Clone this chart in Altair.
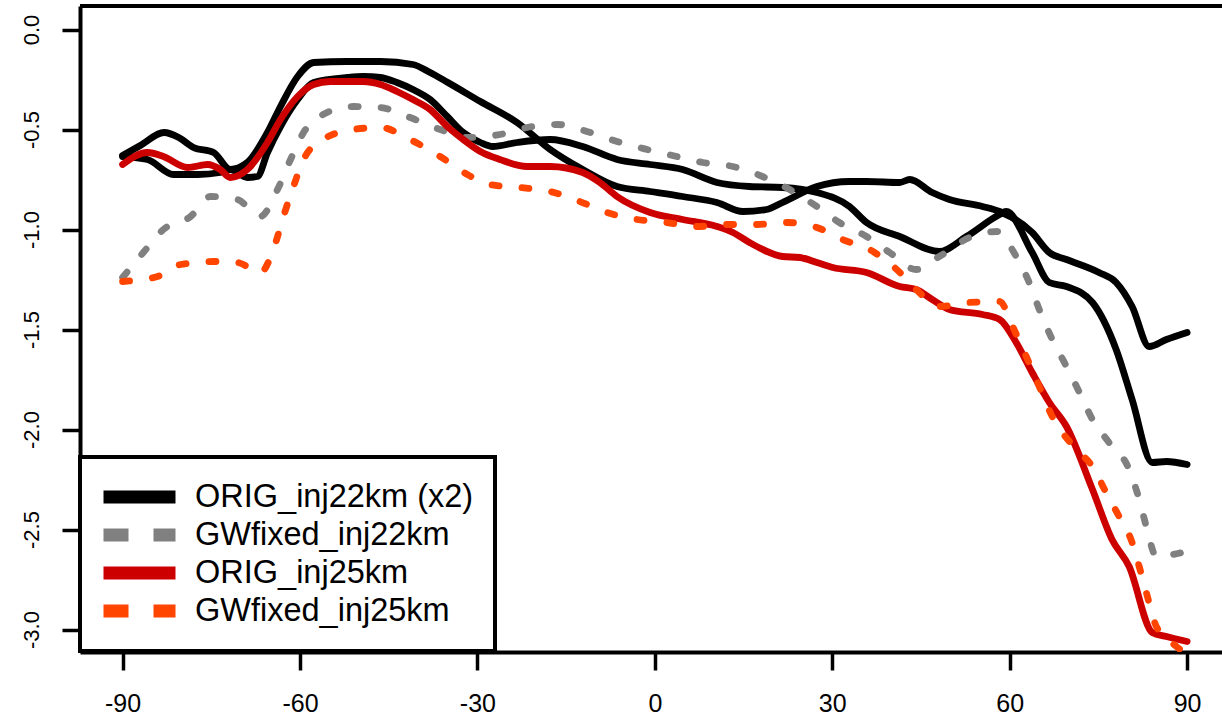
import altair as alt
import pandas as pd

# ---------------- data ----------------
series_names = ["ORIG_inj22km (x2)", "GWfixed_inj22km", "ORIG_inj25km", "GWfixed_inj25km"]
series_colors = ["#000000", "#808080", "#CD0000", "#FF4500"]

# black run 1 (ORIG_inj22km)
blk1_lat = [-90, -87, -83, -80.5, -78, -74.6, -71.8, -68.9, -65.5, -63.3, -60.4, -57.7, -52, -46.4,
            -40.9, -38, -35, -29.5, -23.3, -17.7, -12.2, -6.4, -0.8, 4.7, 10.5, 14.9, 18.9, 21.6,
            27.4, 32.9, 35.8, 41.4, 43.1, 46.9, 49.8, 55.4, 58.3, 63.8, 66.7, 69.6, 75.1, 78.0,
            80.7, 83.6, 86.5, 90]
blk1_val = [-0.63, -0.58, -0.515, -0.54, -0.59, -0.615, -0.70, -0.665, -0.515, -0.385, -0.235,
            -0.165, -0.16, -0.16, -0.175, -0.215, -0.265, -0.36, -0.465, -0.60, -0.70, -0.785,
            -0.81, -0.835, -0.865, -0.91, -0.90, -0.865, -0.785, -0.76, -0.76, -0.765, -0.75,
            -0.815, -0.85, -0.885, -0.91, -1.015, -1.115, -1.15, -1.215, -1.265, -1.385, -1.585,
            -1.55, -1.515]

# black run 2 (ORIG_inj22km)
blk2_lat = [-90, -85.8, -81.4, -77.3, -73.5, -71.8, -68.9, -67.2, -65.5, -63.3, -60.4, -57.7, -52,
            -49.3, -46.4, -43.6, -40.9, -38, -35.1, -32.4, -29.5, -27.4, -23.3, -17.7, -12.2, -6.4,
            -0.8, 4.7, 10.5, 16, 21.6, 27.4, 32.9, 35.8, 41.4, 48.1, 52.7, 58.3, 59.4, 63.8, 66.7,
            69.6, 74, 78, 80.7, 84.1, 86.5, 90]
blk2_val = [-0.635, -0.65, -0.725, -0.725, -0.715, -0.70, -0.74, -0.735, -0.615, -0.485, -0.35,
            -0.265, -0.24, -0.235, -0.24, -0.265, -0.30, -0.35, -0.435, -0.515, -0.565, -0.585,
            -0.565, -0.55, -0.585, -0.65, -0.675, -0.70, -0.765, -0.785, -0.79, -0.815, -0.885,
            -0.965, -1.035, -1.11, -1.035, -0.925, -0.91, -1.115, -1.265, -1.285, -1.365, -1.60,
            -1.85, -2.165, -2.16, -2.175]

# GWfixed_inj22km
gw22_lat = [-90, -86.5, -83.1, -78.5, -75.1, -70.6, -66.7, -63.8, -61.6, -59.4, -56.1, -51, -46.4,
            -41.4, -36.3, -31.7, -26.2, -21.6, -16.5, -11.5, -6.4, -1.3, 3.7, 8.1, 13.2, 18.2, 22.8,
            27.4, 31.2, 35.8, 39.7, 44.2, 48.1, 53.2, 57.8, 61.1, 63.3, 65, 67.2, 69.6, 71.8, 74,
            76.8, 80.2, 81.9, 83.1, 84.8, 89.2, 90]
gw22_val = [-1.24, -1.115, -1.0, -0.935, -0.835, -0.85, -0.935, -0.80, -0.65, -0.515, -0.425,
            -0.385, -0.39, -0.44, -0.50, -0.54, -0.525, -0.49, -0.475, -0.51, -0.56, -0.60, -0.635,
            -0.665, -0.685, -0.735, -0.80, -0.885, -0.965, -1.035, -1.115, -1.20, -1.135, -1.04,
            -1.01, -1.135, -1.265, -1.40, -1.55, -1.685, -1.815, -1.95, -2.065, -2.20, -2.35,
            -2.485, -2.635, -2.615, -2.61]

# ORIG_inj25km
orig25_lat = [-90, -85.8, -83.1, -79, -75.6, -73.5, -71.8, -68.9, -65.5, -63.3, -60.4, -57.7, -54.9,
              -49.3, -46.4, -43.6, -40.9, -38, -35.1, -32.4, -29.5, -26.2, -21.6, -17.7, -12.2,
              -9.3, -6.4, -0.8, 4.7, 10.5, 13.2, 16, 21.6, 24.5, 27.4, 30.1, 35.8, 41.4, 44.2, 46.9,
              49.8, 55.4, 58.3, 61.1, 63.8, 66.7, 69.6, 74, 77.3, 80.2, 84.1, 86.5, 90]
orig25_val = [-0.675, -0.615, -0.635, -0.69, -0.675, -0.70, -0.74, -0.70, -0.565, -0.45, -0.335,
              -0.275, -0.26, -0.26, -0.275, -0.31, -0.35, -0.40, -0.485, -0.55, -0.61, -0.65,
              -0.685, -0.685, -0.715, -0.765, -0.835, -0.915, -0.95, -0.985, -1.015, -1.065,
              -1.135, -1.14, -1.165, -1.19, -1.215, -1.285, -1.30, -1.35, -1.40, -1.425, -1.45,
              -1.565, -1.715, -1.865, -1.985, -2.30, -2.55, -2.685, -3.015, -3.035, -3.06]

# GWfixed_inj25km
gw25_lat = [-90, -84.1, -80.2, -74.6, -70.6, -66.7, -64.5, -62.8, -61.1, -59.4, -56.1, -51, -46.4,
            -41.4, -36.3, -31.7, -27.9, -22.8, -17.7, -12.7, -8.1, -3, 2, 7.1, 12.2, 17.2, 22.3,
            27.4, 31.7, 36.3, 40.9, 44.2, 48.1, 53.2, 58.3, 60.5, 62.8, 65, 67.2, 71.3, 74, 76.3,
            78.5, 80.7, 81.9, 83.1, 84.8, 88.2, 90]
gw25_val = [-1.26, -1.235, -1.175, -1.16, -1.165, -1.215, -1.10, -0.935, -0.785, -0.65, -0.55,
            -0.50, -0.49, -0.55, -0.635, -0.725, -0.775, -0.79, -0.81, -0.86, -0.915, -0.95,
            -0.965, -0.985, -0.975, -0.975, -0.965, -0.99, -1.05, -1.10, -1.20, -1.30, -1.385,
            -1.365, -1.36, -1.485, -1.635, -1.785, -1.935, -2.10, -2.185, -2.315, -2.435, -2.565,
            -2.685, -2.815, -2.985, -3.085, -3.125]

x_ticks = [-90, -60, -30, 0, 30, 60, 90]
y_ticks = [0.0, -0.5, -1.0, -1.5, -2.0, -2.5, -3.0]

# ---------------- build ----------------
FONT = "Liberation Sans"
W, H = 1142, 646

def frame(lat, val):
    return pd.DataFrame({"lat": lat, "val": val})

x_scale = alt.Scale(domain=[-97.2, 95.9], nice=False, zero=False)
y_scale = alt.Scale(domain=[-3.1125, 0.1175], nice=False, zero=False)

x_axis = alt.Axis(values=x_ticks, title=None, grid=False, domain=True, domainColor="black",
                  domainWidth=4, ticks=True, tickColor="black", tickWidth=3.5, tickSize=18,
                  labelFont=FONT, labelFontSize=25, labelColor="black", labelPadding=21,
                  labelFlush=False, labelExpr="replace(datum.label, '\u2212', '-')")
y_axis = alt.Axis(values=y_ticks, title=None, grid=False, domain=True, domainColor="black",
                  domainWidth=4, ticks=True, tickColor="black", tickWidth=3.5, tickSize=18,
                  labelFont=FONT, labelFontSize=22, labelColor="black", labelAngle=-90,
                  labelAlign="center", labelBaseline="alphabetic", labelPadding=24,
                  format=".1f", labelExpr="replace(datum.label, '\u2212', '-')")

X = alt.X("lat:Q", scale=x_scale, axis=x_axis)
Y = alt.Y("val:Q", scale=y_scale, axis=y_axis)


def line_layer(lat, val, color, dash=None):
    kw = dict(color=color, strokeWidth=6.8, strokeCap="round", strokeJoin="round", clip=True,
              interpolate="monotone")
    if dash is not None:
        kw["strokeDash"] = dash
    return alt.Chart(frame(lat, val)).mark_line(**kw).encode(x=X, y=Y, order="lat:Q")

data_dash = [7, 23]
l_blk1 = line_layer(blk1_lat, blk1_val, series_colors[0])
l_blk2 = line_layer(blk2_lat, blk2_val, series_colors[0])
l_gw22 = line_layer(gw22_lat, gw22_val, series_colors[1], dash=data_dash)
l_orig25 = line_layer(orig25_lat, orig25_val, series_colors[2])
l_gw25 = line_layer(gw25_lat, gw25_val, series_colors[3], dash=data_dash)

# legend-only layer: points lie outside the x domain and are clipped away
leg_rows = []
for s in series_names:
    leg_rows.append({"series": s, "lat": -400, "val": 0})
    leg_rows.append({"series": s, "lat": -300, "val": 0})
leg_df = pd.DataFrame(leg_rows)

legend = alt.Legend(title=None, orient="none", legendX=0, legendY=451, symbolType="stroke",
                    symbolSize=5184, symbolStrokeWidth=13, symbolOffset=-4, clipHeight=38,
                    labelFont=FONT, labelFontSize=32.5, labelColor="black", labelOffset=13,
                    rowPadding=0, padding=21, strokeColor="black", fillColor="white",
                    symbolOpacity=1, labelLimit=600)

l_legend = alt.Chart(leg_df).mark_line(clip=True, strokeWidth=13).encode(
    x=X, y=Y,
    color=alt.Color("series:N", scale=alt.Scale(domain=series_names, range=series_colors),
                    legend=legend),
    strokeDash=alt.StrokeDash("series:N",
                              scale=alt.Scale(domain=series_names,
                                              range=[[1, 0], [25, 25], [1, 0], [25, 25]]),
                              legend=legend),
    detail="series:N",
)

top_border = alt.Chart(pd.DataFrame({"k": [0]})).mark_rule(color="black", strokeWidth=4).encode(
    x=alt.value(0), x2=alt.value(W), y=alt.value(0)
)

chart = alt.layer(
    l_blk1, l_blk2, l_gw22, l_orig25, l_gw25, l_legend, top_border
).properties(
    width=W, height=H,
    autosize=alt.AutoSizeParams(type="none"),
    padding={"left": 80, "top": 6, "right": 0, "bottom": 65},
    background="white",
).configure_view(stroke=None).configure_legend(strokeWidth=4)

chart.save("out.html", embed_options={"renderer": "svg", "actions": False})
